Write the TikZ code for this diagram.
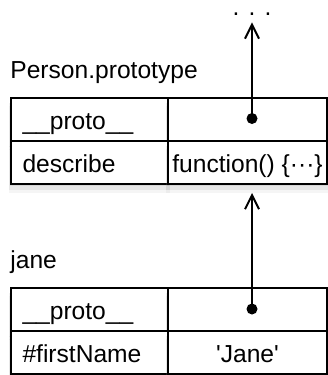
\documentclass[tikz,border=0pt]{standalone}
\usepackage{fontspec}
\setmainfont{Liberation Sans}
\usetikzlibrary{arrows.meta,shadows}

\begin{document}
\begin{tikzpicture}[
		x=0.5pt, y=-0.5pt,
		every node/.style={font=\fontsize{12.3}{14}\selectfont},
		soft shadow/.style={
			drop shadow={opacity=0.16, shadow xshift=0pt, shadow yshift=-1pt, shadow scale=1.01},
			drop shadow={opacity=0.12, shadow xshift=0pt, shadow yshift=-2.5pt, shadow scale=1.02},
			drop shadow={opacity=0.08, shadow xshift=0pt, shadow yshift=-4pt, shadow scale=1.03}},
		cell/.style={rectangle, draw, line width=1pt, fill=white, anchor=north west,
			minimum height=21.5pt, inner ysep=0pt, text height=9.5pt, text depth=0pt, soft shadow},
		keycell/.style={cell, text width=67pt, inner xsep=5.75pt, align=left},
		valcell/.style={cell, minimum width=79.5pt, inner xsep=0pt},
		title/.style={anchor=base west, inner sep=0pt},
		ptr/.style={circle, fill, inner sep=0pt, minimum size=5.5pt},
		link/.style={line width=1pt, -{Straight Barb[length=7pt, width=7pt, line width=1pt]}}
	]
  \useasboundingbox (0,0) rectangle (327,375);
  \node (pp-title) [title] at (10,78) {Person.prototype};
  \node (pp-proto) [keycell] at (10,97) {\_\_proto\_\_};
  \node (pp-proto-val) [valcell] at (167,97) {};
  \node (pp-desc) [keycell] at (10,140) {describe};
  \node (pp-desc-val) [valcell] at (167,140) {function() \{···\}};
  \node (jane-title) [title] at (10,268) {jane};
  \node (jane-proto) [keycell] at (10,287) {\_\_proto\_\_};
  \node (jane-proto-val) [valcell] at (167,287) {};
  \node (jane-name) [keycell] at (10,330) {\#firstName};
  \node (jane-name-val) [valcell] at (167,330) {\textquotesingle Jane\textquotesingle};
  \node (more) [anchor=base, inner sep=0pt] at (252,15) {. . .};
  \node (pp-ptr) [ptr] at (252,118.5) {};
  \node (jane-ptr) [ptr] at (252,309) {};
  \draw [link, shorten >=3.5pt] (pp-ptr.center) -- (more);
  \draw [link, shorten >=4pt] (jane-ptr.center) -- (jane-ptr |- pp-desc-val.south);
\end{tikzpicture}
\end{document}
